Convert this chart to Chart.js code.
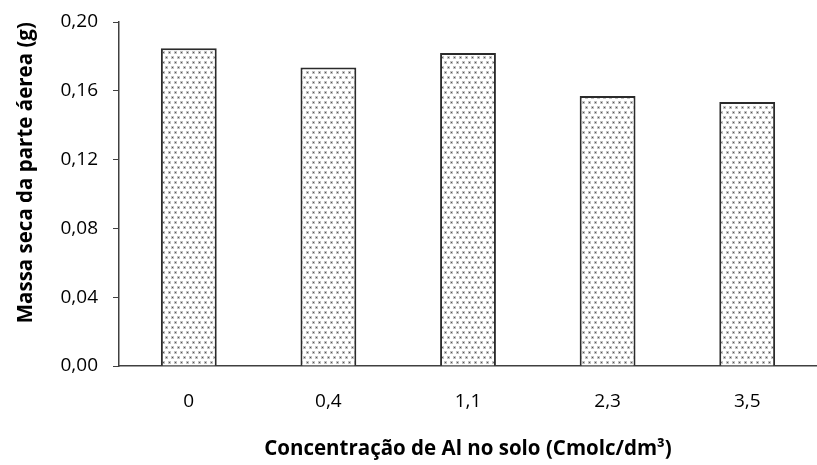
<!DOCTYPE html>
<html>
<head>
<meta charset="utf-8">
<script src="https://cdn.jsdelivr.net/npm/chart.js"></script>
<style>
  html, body { margin: 0; padding: 0; background: #fff; }
  #wrap { width: 817px; height: 465px; }
</style>
</head>
<body>
<div id="wrap"><canvas id="grafico"></canvas></div>
<script>
  // dados
  const concentracoes = ['0', '0,4', '1,1', '2,3', '3,5'];
  const massaSeca = [0.1847, 0.1736, 0.1820, 0.1570, 0.1535];
  const yMin = 0, yMax = 0.20, yPasso = 0.04;

  /*** padrão pontilhado das barras ***/
  function pontilhado(){
    const c = document.createElement('canvas');
    c.width = 6; c.height = 10;
    const g = c.getContext('2d');
    g.fillStyle = '#fff';
    g.fillRect(0, 0, 6, 10);
    g.fillStyle = '#c4c4c4';
    g.fillRect(0, 1, 3, 3);
    g.fillRect(3, 6, 3, 3);
    g.fillStyle = '#555';
    g.fillRect(1, 2, 1, 1);
    g.fillRect(4, 7, 1, 1);
    return g.createPattern(c, 'repeat');
  }

  const fonte = "'Open Sans', 'Noto Sans', sans-serif";
  const ctx = document.getElementById('grafico');

  new Chart(ctx, {
    type: 'bar',
    data: {
      labels: concentracoes,
      datasets: [{
        label: 'Massa seca',
        data: massaSeca,
        backgroundColor: pontilhado(),
        borderColor: '#2b2b2b',
        borderWidth: 2,
        barPercentage: 0.4,
        categoryPercentage: 1
      }]
    },
    options: {
      responsive: true,
      maintainAspectRatio: false,
      animation: false,
      layout: { padding: { top: 0, right: 0, left: 0, bottom: 0 } },
      plugins: {
        legend: { display: false },
        tooltip: { enabled: false }
      },
      scales: {
        x: {
          grid: { display: false, drawTicks: false },
          border: { color: '#404040', width: 1.5 },
          ticks: { color: '#000', font: { family: fonte, size: 19 }, padding: 24 },
          title: {
            display: true,
            text: 'Concentração de Al no solo (Cmolc/dm³)',
            color: '#000',
            font: { family: fonte, size: 20.5, weight: 'bold' },
            padding: { top: 13 }
          },
          afterFit: function(scale){ scale.height = 99; }
        },
        y: {
          min: yMin,
          max: yMax,
          grid: { drawOnChartArea: false, tickLength: 6, color: '#404040' },
          border: { color: '#404040', width: 1.5 },
          ticks: {
            stepSize: yPasso,
            color: '#000',
            padding: 15,
            font: { family: fonte, size: 19 },
            callback: v => v.toFixed(2).replace('.', ',')
          },
          title: {
            display: true,
            text: '        Massa seca da parte áerea (g)',
            color: '#000',
            font: { family: fonte, size: 20.5, weight: 'bold' },
            padding: { top: 14, bottom: 8 }
          },
          afterFit: function(scale){ scale.width = 119; scale.paddingTop = 22; }
        }
      }
    }
  });
</script>
</body>
</html>
